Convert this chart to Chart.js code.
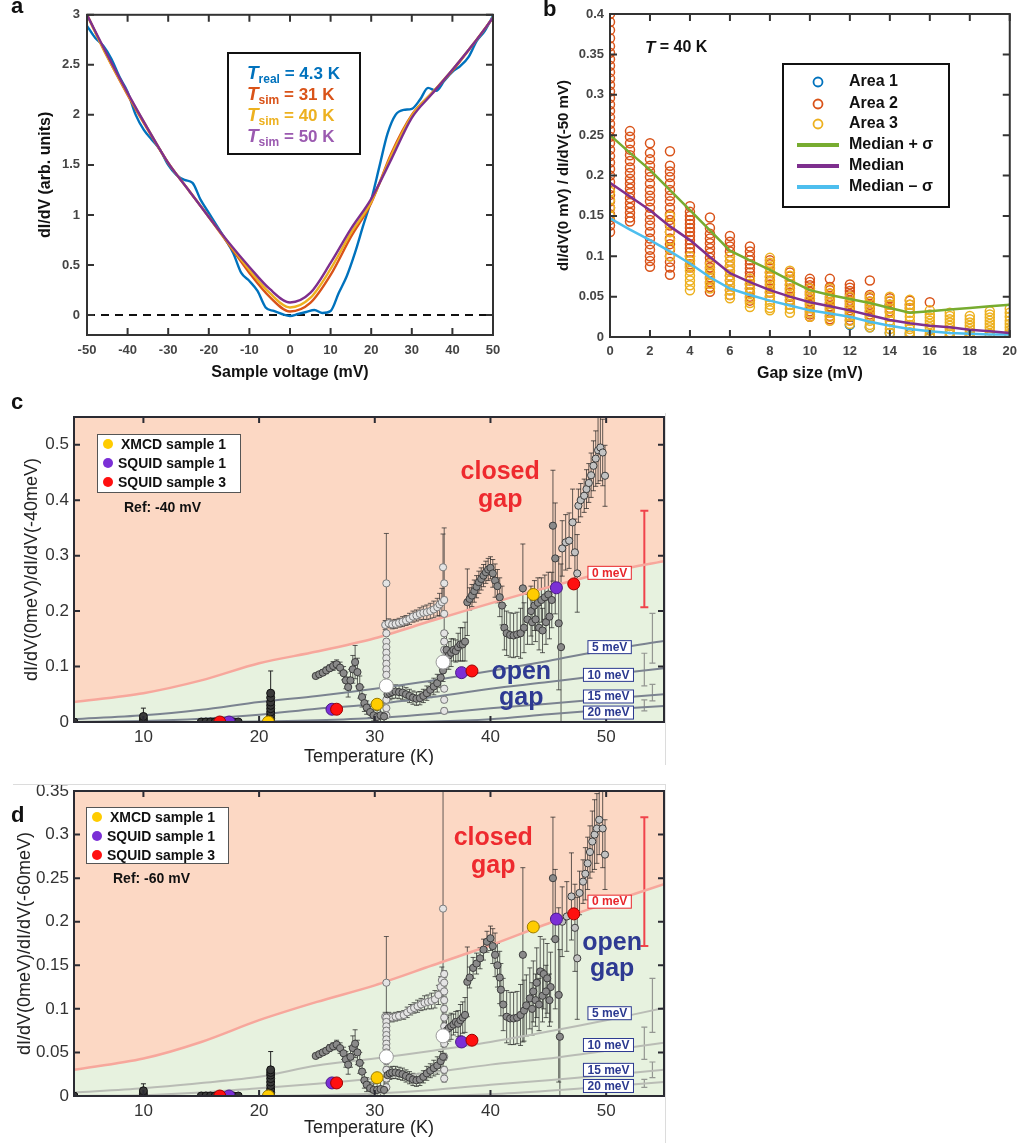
<!DOCTYPE html>
<html>
<head>
<meta charset="utf-8">
<title>Gap analysis figure</title>
<script src="https://cdn.jsdelivr.net/npm/chart.js@4.4.1/dist/chart.umd.min.js"></script>
<style>
  html, body { margin: 0; padding: 0; background: #fff; }
  body { position: relative; width: 1024px; height: 1143px; overflow: hidden; font-family: "Liberation Sans", Arial, sans-serif; }
  canvas { position: absolute; }
  .panel { position: absolute; font-weight: bold; font-size: 22px; line-height: 1; color: #111; }
  .edge { position: absolute; border: 0 solid #dcdcdc; }
</style>
</head>
<body>
<canvas id="chartA" width="512" height="390" style="left:0;top:0"></canvas>
<canvas id="chartB" width="512" height="390" style="left:512px;top:0"></canvas>
<canvas id="chartC" width="680" height="370" style="left:0;top:395px"></canvas>
<canvas id="chartD" width="680" height="368" style="left:0;top:775px"></canvas>
<div class="edge" style="left:665px;top:413px;height:352px;border-left-width:1px"></div>
<div class="edge" style="left:13px;top:784px;width:652px;height:359px;border-top-width:1px;border-right-width:1px"></div>
<div class="panel" style="left:11px;top:-5px">a</div>
<div class="panel" style="left:543px;top:-2px">b</div>
<div class="panel" style="left:11px;top:391px">c</div>
<div class="panel" style="left:11px;top:804px">d</div>
<script>
// ---------- panel a : dI/dV spectra ----------
var voltReal = [-50,-48,-46,-44,-42,-40,-38,-36,-34,-32,-30,-28,-26,-24,-22,-20,-18,-16,-14,-12,-10,-8,-6,-4,-2,
                0,2,4,6,8,10,12,14,16,18,20,22,24,26,28,30,32,34,36,38,40,42,44,46,48,50];
var real43K = [2.89,2.77,2.69,2.56,2.38,2.23,2.0,1.85,1.75,1.65,1.5,1.4,1.35,1.32,1.15,1.02,0.89,0.76,0.62,0.42,0.34,0.24,0.076,0.04,0.01,
               -0.01,0.01,0.03,0.05,0.02,0.04,0.22,0.39,0.62,0.89,1.15,1.48,1.81,2.0,2.05,2.06,2.15,2.27,2.24,2.34,2.43,2.49,2.58,2.74,2.84,2.99];
var voltSim = [-50,-45,-40,-35,-30,-25,-20,-15,-10,-5,0,5,10,15,20,25,30,35,40,45,50];
var sim31K = [3.0,2.58,2.2,1.85,1.52,1.25,0.98,0.7,0.42,0.18,0.035,0.12,0.4,0.78,1.12,1.62,2.0,2.22,2.44,2.7,2.97];
var sim40K = [3.0,2.58,2.21,1.86,1.52,1.25,0.98,0.71,0.45,0.22,0.075,0.17,0.46,0.82,1.13,1.6,1.99,2.22,2.45,2.7,2.97];
var sim50K = [3.0,2.6,2.22,1.86,1.52,1.25,0.98,0.72,0.48,0.26,0.125,0.22,0.52,0.86,1.16,1.56,1.97,2.21,2.45,2.7,2.97];
var aXTicks = [-50,-40,-30,-20,-10,0,10,20,30,40,50];
var aYTicks = [0,0.5,1,1.5,2,2.5,3];
var aLegend = [['real', ' = 4.3 K'], ['sim', ' = 31 K'], ['sim', ' = 40 K'], ['sim', ' = 50 K']];

// ---------- panel b : zero-bias ratio vs gap size, T = 40 K ----------
var gapSize = [0,1,2,3,4,5,6,7,8,9,10,11,12,13,14,15,16,17,18,19,20];
var area1Cols = [[],[],[],[],[],[],[],[],[],[],[],[],[0.015],[0.012],[0.04,0.005],[0.004],[0.0],[0.0],[0.001],[],[0.002]];
var area2Cols = [
  [0.40,0.39,0.38,0.37,0.36,0.352,0.344,0.336,0.328,0.32,0.312,0.304,0.296,0.288,0.28,0.272,0.264,0.256,0.248,0.24,0.232,0.224,0.216,0.208,0.2,0.192,0.184,0.176,0.168,0.16,0.152,0.145,0.138,0.13],
  [0.255,0.248,0.24,0.232,0.225,0.218,0.21,0.203,0.196,0.19,0.184,0.178,0.172,0.166,0.16,0.154,0.148,0.143],
  [0.24,0.228,0.22,0.212,0.205,0.198,0.19,0.182,0.175,0.168,0.16,0.152,0.145,0.138,0.13,0.122,0.115,0.108,0.1,0.094,0.087],
  [0.23,0.212,0.205,0.198,0.19,0.182,0.175,0.168,0.16,0.152,0.145,0.138,0.13,0.122,0.115,0.108,0.1,0.093,0.086,0.077],
  [0.162,0.155,0.15,0.145,0.14,0.135,0.13,0.125,0.12,0.115,0.11,0.105,0.1,0.095,0.09,0.086],
  [0.148,0.135,0.128,0.122,0.116,0.11,0.104,0.098,0.092,0.086,0.08,0.074,0.068,0.062,0.056],
  [0.125,0.118,0.112,0.106,0.1,0.094,0.088,0.082,0.076,0.07,0.064,0.058,0.052],
  [0.112,0.106,0.1,0.095,0.09,0.085,0.08,0.075,0.07,0.065,0.06,0.055,0.05,0.045],
  [0.095,0.09,0.085,0.08,0.075,0.07,0.065,0.06,0.055,0.05],
  [0.08,0.075,0.07,0.065,0.06,0.055,0.05,0.045,0.04],
  [0.072,0.068,0.064,0.06,0.056,0.052,0.048,0.044,0.04,0.036,0.032,0.028,0.025],
  [0.072,0.062,0.058,0.054,0.05,0.046,0.042,0.038,0.034,0.03,0.026,0.022],
  [0.065,0.061,0.057,0.053,0.049,0.045,0.041,0.037,0.033,0.029,0.025,0.021],
  [0.07,0.052,0.048,0.044,0.04,0.036,0.032,0.028,0.024],
  [0.048,0.044,0.04,0.036,0.032],
  [0.045,0.04,0.036],
  [0.043],[],[],[],[]
];
var area3Cols = [
  [0.18,0.17,0.16,0.15],[],[],
  [0.15,0.14,0.13,0.12,0.11,0.1],
  [0.1,0.094,0.088,0.082,0.076,0.07,0.064,0.058],
  [0.09,0.084,0.078,0.072,0.066,0.06],
  [0.1,0.094,0.088,0.082,0.076,0.07,0.064,0.058,0.052,0.048],
  [0.072,0.066,0.06,0.054,0.048,0.042,0.037],
  [0.098,0.092,0.086,0.08,0.074,0.068,0.062,0.056,0.05,0.045,0.04,0.036,0.033],
  [0.082,0.076,0.07,0.064,0.058,0.052,0.046,0.04,0.035,0.03],
  [0.06,0.054,0.048,0.042,0.036,0.03,0.025],
  [0.06,0.054,0.048,0.042,0.036,0.03,0.025,0.02],
  [0.05,0.044,0.038,0.032,0.026,0.02,0.016],
  [0.05,0.044,0.038,0.032,0.026,0.02,0.015,0.012],
  [0.05,0.045,0.04,0.035,0.03,0.025,0.02,0.015,0.01,0.005],
  [0.046,0.04,0.035,0.03,0.025,0.02,0.015,0.01,0.006,0.002],
  [0.033,0.028,0.024,0.02,0.016,0.012,0.008,0.004,0.001],
  [0.03,0.026,0.022,0.018,0.014,0.01,0.006,0.003,0.0],
  [0.026,0.022,0.018,0.014,0.01,0.006,0.003,0.0],
  [0.032,0.028,0.024,0.02,0.016,0.012,0.008,0.004,0.001],
  [0.035,0.03,0.025,0.02,0.016,0.012,0.008,0.004,0.001]
];
var medianPlus  = [0.25,0.228,0.207,0.182,0.157,0.132,0.107,0.095,0.083,0.07,0.058,0.052,0.047,0.042,0.036,0.03,0.032,0.034,0.036,0.038,0.04];
var median      = [0.191,0.174,0.157,0.137,0.12,0.099,0.079,0.068,0.058,0.05,0.043,0.038,0.033,0.027,0.021,0.017,0.014,0.012,0.009,0.007,0.005];
var medianMinus = [0.147,0.133,0.12,0.106,0.091,0.074,0.06,0.052,0.045,0.039,0.033,0.029,0.025,0.019,0.014,0.01,0.007,0.005,0.004,0.003,0.003];
var bXTicks = [0,2,4,6,8,10,12,14,16,18,20];
var bYTicks = [0,0.05,0.1,0.15,0.2,0.25,0.3,0.35,0.4];

// ---------- panels c, d : temperature dependence ----------
var tXTicks = [10,20,30,40,50];
var cYTicks = [0,0.1,0.2,0.3,0.4,0.5];
var dYTicks = [0,0.05,0.1,0.15,0.2,0.25,0.3,0.35];
var gapT = [4,10,15,20,25,30,35,40,45,50,55];
var gapC0 = [0.036,0.052,0.075,0.106,0.127,0.151,0.183,0.214,0.243,0.27,0.29];
var gapC5 = [0.005,0.012,0.022,0.036,0.047,0.06,0.075,0.092,0.11,0.13,0.146];
var gapC10 = [0,0.002,0.006,0.013,0.024,0.032,0.045,0.06,0.072,0.085,0.097];
var gapC15 = [0,0,0,0.001,0.003,0.007,0.015,0.025,0.033,0.042,0.05];
var gapC20 = [0,0,0,0,0,0,0.001,0.005,0.014,0.022,0.029];
var gapD0 = [0.03,0.043,0.062,0.087,0.108,0.127,0.15,0.173,0.198,0.221,0.243];
var gapD5 = [0.004,0.009,0.015,0.022,0.035,0.043,0.052,0.062,0.074,0.087,0.101];
var gapD10 = [0,0.001,0.004,0.009,0.014,0.02,0.027,0.036,0.043,0.052,0.061];
var gapD15 = [0,0,0,0,0.001,0.003,0.007,0.013,0.018,0.024,0.03];
var gapD20 = [0,0,0,0,0,0,0,0.002,0.006,0.011,0.016];
var gapNames = ['0 meV','5 meV','10 meV','15 meV','20 meV'];
var gapLabelT = [50.3,50.3,50.2,50.2,50.2];
var gapLabelYC = [0.269,0.135,0.085,0.046,0.017];
var gapLabelYD = [0.223,0.095,0.0585,0.03,0.0115];
var gapBarT = [53.3,54.0,53.3,54.0,53.3];
var gapBarLoC = [0.207,0.106,0.065,0.038,0.02];
var gapBarHiC = [0.381,0.196,0.124,0.068,0.04];
var gapBarLoD = [0.172,0.073,0.042,0.021,0.01];
var gapBarHiD = [0.32,0.135,0.079,0.039,0.019];

var lowT = [4,10,10,10,15,15.4,15.8,16.2,16.6,17,17.4,17.8,18.2,21,21,21,21,21,21,21,21,21];
var lowC = [0,0,0.005,0.01,0,0,0,0,0,0,0,0,0,0,0.006,0.012,0.018,0.024,0.03,0.036,0.044,0.052];
var lowErrC = [0.002,0.002,0.003,0.015,0,0,0,0,0,0,0,0,0,0.002,0.003,0.003,0.003,0.003,0.003,0.003,0.003,0.04];
var lowD = [0,0,0.003,0.006,0,0,0,0,0,0,0,0,0,0,0.004,0.008,0.012,0.016,0.02,0.024,0.027,0.03];
var lowErrD = [0.001,0.001,0.002,0.008,0,0,0,0,0,0,0,0,0,0.001,0.002,0.002,0.002,0.002,0.002,0.002,0.002,0.021];

var grayTC = [24.9,25.2,25.5,25.8,26.1,26.4,26.7,27.0,27.3,27.5,27.7,27.9,28.1,28.3,28.5,28.7,28.9,29.1,29.3,29.6,29.9,30.2,30.5,30.8,
  31.1,31.3,31.5,31.8,32.1,32.4,32.7,33.0,33.3,33.6,33.9,34.2,34.5,34.8,35.1,35.4,35.7,35.9,
  36.2,36.4,36.6,36.8,37.0,37.2,37.4,37.6,37.8,
  38.0,38.2,38.4,38.6,38.8,39.0,39.2,39.4,39.6,39.8,40.0,40.2,40.4,40.6,40.8,41.0,41.2,41.4,41.7,42.0,42.3,42.6,42.9,43.2,43.5,43.8,44.1,44.4,44.7,45.0,45.3,
  43.6,43.9,44.2,44.5,44.8,45.1,
  45.4,45.6,45.9,46.1,46.2,46.5,46.8,47.1,47.3,47.5,47.6,47.8,48.1,48.3,48.5,48.7,48.9,49.1,49.3,49.5,49.7,49.9,
  42.8];
var grayC = [0.083,0.086,0.089,0.093,0.097,0.101,0.104,0.098,0.088,0.075,0.063,0.075,0.095,0.108,0.09,0.063,0.045,0.034,0.026,0.018,0.012,0.009,0.012,0.01,
  0.05,0.052,0.054,0.055,0.054,0.053,0.05,0.047,0.044,0.042,0.043,0.047,0.052,0.058,0.064,0.07,0.08,0.093,
  0.13,0.12,0.125,0.13,0.128,0.135,0.14,0.14,0.145,
  0.216,0.222,0.228,0.236,0.244,0.252,0.258,0.264,0.27,0.275,0.278,0.268,0.255,0.245,0.225,0.21,0.17,0.16,0.157,0.156,0.158,0.16,0.17,0.185,0.2,0.21,0.215,0.22,0.225,0.23,0.22,
  0.18,0.185,0.17,0.165,0.18,0.19,
  0.354,0.295,0.178,0.135,0.313,0.324,0.327,0.36,0.306,0.268,0.39,0.40,0.408,0.42,0.431,0.445,0.462,0.475,0.49,0.495,0.486,0.444,
  0.241];
var grayErrC = [0.003,0.004,0.005,0.006,0.006,0.008,0.008,0.01,0.012,0.015,0.018,0.02,0.025,0.03,0.025,0.02,0.018,0.015,0.012,0.01,0.01,0.012,0.02,0.025,
  0.012,0.012,0.012,0.012,0.012,0.012,0.012,0.012,0.012,0.012,0.012,0.012,0.013,0.014,0.015,0.016,0.018,0.02,
  0.03,0.025,0.025,0.02,0.02,0.025,0.03,0.03,0.035,
  0.06,0.02,0.02,0.02,0.02,0.02,0.02,0.02,0.02,0.02,0.02,0.025,0.03,0.03,0.035,0.035,0.04,0.04,0.04,0.04,0.04,0.045,0.045,0.045,0.045,0.045,0.045,0.04,0.04,0.04,0.05,
  0.04,0.04,0.04,0.04,0.04,0.04,
  0.1,0.1,0.12,0.15,0.05,0.05,0.05,0.06,0.06,0.07,0.03,0.03,0.03,0.035,0.035,0.04,0.045,0.05,0.06,0.06,0.06,0.055,
  0.08];
var grayTD = [24.9,25.2,25.5,25.8,26.1,26.4,26.7,27.0,27.3,27.5,27.7,27.9,28.1,28.3,28.5,28.7,28.9,29.1,29.3,29.6,29.9,30.2,30.5,30.8,
  31.1,31.3,31.5,31.8,32.1,32.4,32.7,33.0,33.3,33.6,33.9,34.2,34.5,34.8,35.1,35.4,35.7,35.9,
  36.2,36.4,36.6,36.8,37.0,37.2,37.4,37.6,37.8,
  38.0,38.2,38.5,38.8,39.1,39.4,39.7,40.0,40.2,40.4,40.6,40.8,40.9,41.1,41.4,41.7,42.0,42.3,42.6,42.9,43.1,43.4,43.7,44.0,44.3,44.6,44.9,45.2,
  43.6,43.9,44.2,44.5,44.8,45.1,
  45.4,45.6,45.9,46.0,46.2,46.6,47.0,47.3,47.5,47.7,48.0,48.2,48.4,48.6,48.8,49.0,49.2,49.4,49.7,49.9,
  42.8];
var grayD = [0.046,0.048,0.05,0.052,0.055,0.057,0.059,0.055,0.049,0.042,0.036,0.045,0.055,0.06,0.05,0.038,0.028,0.018,0.013,0.009,0.007,0.007,0.008,0.007,
  0.024,0.026,0.027,0.027,0.026,0.025,0.023,0.021,0.019,0.018,0.019,0.022,0.026,0.029,0.032,0.035,0.04,0.045,
  0.075,0.078,0.08,0.082,0.085,0.083,0.087,0.09,0.093,
  0.131,0.136,0.147,0.152,0.158,0.168,0.177,0.181,0.172,0.162,0.15,0.136,0.122,0.105,0.091,0.089,0.089,0.09,0.093,0.098,0.104,0.112,0.12,0.13,0.143,0.14,0.135,0.125,
  0.1,0.11,0.105,0.115,0.12,0.11,
  0.25,0.18,0.116,0.068,0.2,0.206,0.229,0.193,0.158,0.233,0.246,0.255,0.267,0.28,0.292,0.3,0.307,0.317,0.307,0.277,
  0.162];
var grayErrD = [0.002,0.002,0.003,0.003,0.004,0.004,0.005,0.006,0.007,0.009,0.011,0.012,0.014,0.016,0.014,0.012,0.01,0.009,0.008,0.007,0.007,0.008,0.012,0.015,
  0.007,0.007,0.007,0.007,0.007,0.007,0.007,0.007,0.007,0.007,0.007,0.007,0.008,0.008,0.009,0.01,0.011,0.012,
  0.015,0.015,0.015,0.012,0.012,0.015,0.018,0.018,0.02,
  0.04,0.012,0.012,0.012,0.012,0.012,0.012,0.014,0.02,0.025,0.025,0.03,0.03,0.03,0.03,0.03,0.03,0.03,0.035,0.035,0.035,0.035,0.035,0.04,0.04,0.04,0.04,0.04,
  0.03,0.03,0.03,0.03,0.03,0.03,
  0.07,0.08,0.1,0.1,0.04,0.04,0.05,0.05,0.07,0.025,0.025,0.03,0.03,0.03,0.035,0.04,0.04,0.04,0.045,0.04,
  0.1];

var lightTC = [30.9,31.2,31.5,31.8,32.1,32.4,32.7,33.0,33.3,33.6,33.9,34.2,34.5,34.8,35.1,35.4,35.6,35.8,35.9];
var lightC = [0.175,0.178,0.176,0.177,0.179,0.181,0.183,0.186,0.19,0.192,0.195,0.197,0.198,0.2,0.203,0.207,0.212,0.216,0.279];
var lightErrC = [0.008,0.008,0.008,0.008,0.008,0.009,0.009,0.01,0.01,0.01,0.011,0.012,0.013,0.014,0.015,0.016,0.02,0.025,0.06];
var lightTD = [30.9,31.2,31.5,31.8,32.1,32.5,32.8,33.1,33.4,33.7,34.0,34.3,34.6,34.9,35.2,35.5,35.7,35.8,35.9];
var lightD = [0.091,0.091,0.09,0.091,0.092,0.093,0.096,0.099,0.101,0.103,0.105,0.107,0.108,0.109,0.111,0.116,0.125,0.133,0.215];
var lightErrD = [0.005,0.005,0.005,0.005,0.005,0.005,0.006,0.006,0.006,0.007,0.007,0.008,0.008,0.009,0.01,0.011,0.012,0.015,0.135];
var colTemps = [31, 36];
var col31C = [0.25,0.16,0.145,0.135,0.125,0.115,0.105,0.095,0.085,0.04,0.025,0.012];
var col31ErrC = [0.09,0.005,0.005,0.005,0.005,0.005,0.005,0.005,0.005,0.005,0.005,0.005];
var col36C = [0.25,0.22,0.195,0.16,0.145,0.13,0.115,0.1,0.06,0.04,0.02];
var col36ErrC = [0.1,0.005,0.005,0.005,0.005,0.005,0.005,0.005,0.005,0.005,0.005];
var col31D = [0.13,0.09,0.085,0.08,0.075,0.07,0.065,0.06,0.055,0.05,0.04,0.03,0.02,0.01];
var col31ErrD = [0.053,0.004,0.004,0.004,0.004,0.004,0.004,0.004,0.004,0.004,0.004,0.004,0.004,0.004];
var col36D = [0.14,0.13,0.12,0.11,0.1,0.09,0.08,0.06,0.045,0.03,0.02];
var col36ErrD = [0.004,0.004,0.004,0.004,0.004,0.004,0.004,0.004,0.004,0.004,0.004];
var bigT = [31, 35.9];
var bigC = [0.065, 0.108];
var bigD = [0.045, 0.069];

var sampleNames = ['XMCD sample 1', 'SQUID sample 1', 'SQUID sample 3'];
var sampleColors = ['#FFCC00', '#7B2FD6', '#FF1010'];
var sampleEdges = ['#9a7b00', '#4a1a88', '#a00000'];
var xmcdT = [20.8, 30.2, 43.7];
var xmcdC = [0, 0.032, 0.23];
var xmcdD = [0, 0.021, 0.194];
var squid1T = [17.4, 26.3, 37.5, 45.7];
var squid1C = [0, 0.023, 0.089, 0.242];
var squid1D = [0, 0.015, 0.062, 0.203];
var squid3T = [16.6, 26.7, 38.4, 47.2];
var squid3C = [0, 0.023, 0.092, 0.249];
var squid3D = [0, 0.015, 0.064, 0.209];

// ---------- helpers ----------
var FONT = '"Liberation Sans", Arial, Helvetica, sans-serif';
var BLUE = '#0072BD', ORANGE = '#D95319', YELLOW = '#EDB120', PURPLE = '#7E2F8E';
var SALMON = '#FCD8C4', MINT = '#E7F2DF';

function pts(xs, ys) { return xs.map(function (x, i) { return {x: x, y: ys[i]}; }); }
function col(t, ys) { return ys.map(function (y) { return {x: t, y: y}; }); }
function lows(ys, es) { return ys.map(function (y, i) { return y - es[i]; }); }
function highs(ys, es) { return ys.map(function (y, i) { return y + es[i]; }); }
function colPts(cols) {
    var out = [];
    cols.forEach(function (c, i) { c.forEach(function (v) { out.push({x: gapSize[i], y: v}); }); });
    return out;
}

function axis(o) {
    return {
        type: 'linear', min: o.min, max: o.max,
        afterBuildTicks: function (s) { s.ticks = o.ticks.map(function (v) { return {value: v}; }); },
        afterFit: function (s) { if (o.w !== undefined) s.width = o.w; if (o.h !== undefined) s.height = o.h; },
        grid: {display: false, drawTicks: false},
        border: {display: false},
        ticks: {padding: o.pad, color: o.tickColor, font: o.tickFont, autoSkip: false, maxRotation: 0,
                callback: function (v) { return String(v); }},
        title: {display: true, text: o.title, color: o.titleColor || '#111', font: o.titleFont, padding: o.titlePad}
    };
}

function framePlugin(color, lw, len) {
    return {
        id: 'frame',
        afterDatasetsDraw: function (chart) {
            var ctx = chart.ctx, a = chart.chartArea, x = chart.scales.x, y = chart.scales.y;
            ctx.save();
            ctx.strokeStyle = color;
            ctx.lineWidth = lw;
            ctx.beginPath();
            x.ticks.forEach(function (t) {
                var px = x.getPixelForValue(t.value);
                ctx.moveTo(px, a.bottom); ctx.lineTo(px, a.bottom - len);
                ctx.moveTo(px, a.top); ctx.lineTo(px, a.top + len);
            });
            y.ticks.forEach(function (t) {
                var py = y.getPixelForValue(t.value);
                ctx.moveTo(a.left, py); ctx.lineTo(a.left + len, py);
                ctx.moveTo(a.right, py); ctx.lineTo(a.right - len, py);
            });
            ctx.stroke();
            ctx.strokeRect(a.left, a.top, a.right - a.left, a.bottom - a.top);
            ctx.restore();
        }
    };
}

var errorBars = {
    id: 'errorBars',
    beforeDatasetsDraw: function (chart) {
        var ctx = chart.ctx, a = chart.chartArea, x = chart.scales.x, y = chart.scales.y;
        ctx.save();
        ctx.beginPath();
        ctx.rect(a.left, a.top, a.right - a.left, a.bottom - a.top);
        ctx.clip();
        chart.data.datasets.forEach(function (ds) {
            if (!ds.errLo) return;
            var cap = ds.errCap || 2.5;
            ctx.strokeStyle = ds.errColor || '#222';
            ctx.lineWidth = ds.errWidth || 1;
            ds.data.forEach(function (p, i) {
                if (!(ds.errHi[i] > ds.errLo[i])) return;
                var px = x.getPixelForValue(p.x);
                var lo = y.getPixelForValue(ds.errLo[i]), hi = y.getPixelForValue(ds.errHi[i]);
                ctx.beginPath();
                ctx.moveTo(px, lo); ctx.lineTo(px, hi);
                ctx.moveTo(px - cap, lo); ctx.lineTo(px + cap, lo);
                ctx.moveTo(px - cap, hi); ctx.lineTo(px + cap, hi);
                ctx.stroke();
            });
        });
        ctx.restore();
    }
};

function baseOptions(xAxis, yAxis, padding) {
    return {
        responsive: false, animation: false, events: [],
        layout: {padding: padding},
        plugins: {legend: {display: false}, tooltip: {enabled: false}, filler: {drawTime: 'beforeDraw'}},
        scales: {x: xAxis, y: yAxis}
    };
}

function curve(xs, ys, color, width) {
    return {data: pts(xs, ys), showLine: true, pointRadius: 0, borderColor: color, borderWidth: width,
            cubicInterpolationMode: 'monotone'};
}

// ---------- chart a ----------
var tickBold = {family: FONT, size: 13, weight: 'bold'};
var titleBold = {family: FONT, size: 16, weight: 'bold'};

var aLayers = [
    {data: pts([-50, 50], [0, 0]), showLine: true, pointRadius: 0, borderColor: '#111', borderWidth: 2, borderDash: [8, 6]},
    curve(voltReal, real43K, BLUE, 2.4),
    curve(voltSim, sim31K, ORANGE, 2.4),
    curve(voltSim, sim40K, YELLOW, 2.4),
    curve(voltSim, sim50K, PURPLE, 2.4)
];
var aLegendColors = [BLUE, ORANGE, YELLOW, '#9B5AB0'];

new Chart(document.getElementById('chartA'), {
    type: 'scatter',
    data: {datasets: aLayers.slice().reverse()},
    options: baseOptions(
        axis({min: -50, max: 50, ticks: aXTicks, h: 55, pad: 8, tickColor: '#444', tickFont: tickBold,
              title: 'Sample voltage (mV)', titleFont: titleBold, titlePad: {top: 0, bottom: 8}}),
        axis({min: -0.2, max: 3, ticks: aYTicks, w: 87, pad: 7, tickColor: '#444', tickFont: tickBold,
              title: 'dI/dV (arb. units)', titleFont: titleBold, titlePad: {top: 36, bottom: 0}}),
        {top: 14, right: 19, left: 0, bottom: 0}),
    plugins: [framePlugin('#333', 2, 7), {
        id: 'legendA',
        afterDraw: function (chart) {
            var ctx = chart.ctx;
            ctx.save();
            ctx.strokeStyle = '#111';
            ctx.lineWidth = 2;
            ctx.strokeRect(228, 53, 132, 101);
            var base = [79, 100, 121, 142];
            aLegend.forEach(function (row, i) {
                var x = 247, y = base[i];
                ctx.fillStyle = aLegendColors[i];
                ctx.textBaseline = 'alphabetic';
                ctx.textAlign = 'left';
                ctx.font = 'italic bold 19px ' + FONT;
                ctx.fillText('T', x, y);
                x += ctx.measureText('T').width;
                ctx.font = 'bold 12px ' + FONT;
                ctx.fillText(row[0], x, y + 4);
                x += ctx.measureText(row[0]).width;
                ctx.font = 'bold 17px ' + FONT;
                ctx.fillText(row[1], x, y);
            });
            ctx.restore();
        }
    }]
});

// ---------- chart b ----------
function rings(points, color) {
    return {data: points, pointRadius: 4.5, pointBackgroundColor: 'rgba(0,0,0,0)', pointBorderColor: color, pointBorderWidth: 1.5};
}
var bLayers = [
    rings(colPts(area1Cols), BLUE),
    rings(colPts(area2Cols), ORANGE),
    rings(colPts(area3Cols), YELLOW),
    {data: pts(gapSize, medianMinus), showLine: true, pointRadius: 0, borderColor: '#4DBEEE', borderWidth: 2.5},
    {data: pts(gapSize, median), showLine: true, pointRadius: 0, borderColor: PURPLE, borderWidth: 2.5},
    {data: pts(gapSize, medianPlus), showLine: true, pointRadius: 0, borderColor: '#77AC30', borderWidth: 2.5}
];
var bLegendNames = ['Area 1', 'Area 2', 'Area 3', 'Median + \u03c3', 'Median', 'Median \u2013 \u03c3'];
var bLegendColors = [BLUE, ORANGE, YELLOW, '#77AC30', PURPLE, '#4DBEEE'];

new Chart(document.getElementById('chartB'), {
    type: 'scatter',
    data: {datasets: bLayers.slice().reverse()},
    options: baseOptions(
        axis({min: 0, max: 20, ticks: bXTicks, h: 53, pad: 7, tickColor: '#444', tickFont: tickBold,
              title: 'Gap size (mV)', titleFont: titleBold, titlePad: {top: 0, bottom: 7}}),
        axis({min: 0, max: 0.4, ticks: bYTicks, w: 98, pad: 6, tickColor: '#444', tickFont: tickBold,
              title: 'dI/dV(0 mV) / dI/dV(-50 mV)', titleFont: {family: FONT, size: 15, weight: 'bold'},
              titlePad: {top: 43, bottom: 0}}),
        {top: 14, right: 9, left: 0, bottom: 0}),
    plugins: [framePlugin('#333', 2, 7), {
        id: 'legendB',
        afterDraw: function (chart) {
            var ctx = chart.ctx;
            ctx.save();
            ctx.fillStyle = '#111';
            ctx.textBaseline = 'middle';
            ctx.textAlign = 'left';
            ctx.font = 'italic bold 17px ' + FONT;
            ctx.fillText('T', 133, 48);
            var w = ctx.measureText('T').width;
            ctx.font = 'bold 16px ' + FONT;
            ctx.fillText(' = 40 K', 133 + w, 48);
            ctx.fillStyle = '#fff';
            ctx.fillRect(271, 64, 166, 143);
            ctx.strokeStyle = '#111';
            ctx.lineWidth = 2;
            ctx.strokeRect(271, 64, 166, 143);
            var rowsY = [82, 104, 124, 145, 166, 187];
            bLegendNames.forEach(function (name, i) {
                var y = rowsY[i];
                ctx.strokeStyle = bLegendColors[i];
                if (i < 3) {
                    ctx.lineWidth = 1.8;
                    ctx.beginPath();
                    ctx.arc(306, y, 4.5, 0, Math.PI * 2);
                    ctx.stroke();
                } else {
                    ctx.lineWidth = 4;
                    ctx.beginPath();
                    ctx.moveTo(285, y); ctx.lineTo(327, y);
                    ctx.stroke();
                }
                ctx.fillStyle = '#111';
                ctx.font = 'bold 16px ' + FONT;
                ctx.fillText(name, 337, y);
            });
            ctx.restore();
        }
    }]
});

// ---------- charts c and d ----------
function tempChart(id, p) {
    var layers = [
        {data: pts(gapT, p.g0), showLine: true, pointRadius: 0, borderColor: 'rgba(0,0,0,0)', borderWidth: 1,
         fill: 'start', backgroundColor: MINT},
        {data: pts(gapT, p.g0), showLine: true, pointRadius: 0, borderColor: '#F7A79C', borderWidth: 2.5,
         fill: 'end', backgroundColor: SALMON, tension: 0.3},
        {data: pts(gapT, p.g5), showLine: true, pointRadius: 0, borderColor: p.gapColor, borderWidth: 2, tension: 0.3},
        {data: pts(gapT, p.g10), showLine: true, pointRadius: 0, borderColor: p.gapColor, borderWidth: 2, tension: 0.3},
        {data: pts(gapT, p.g15), showLine: true, pointRadius: 0, borderColor: p.gapColor, borderWidth: 2, tension: 0.3},
        {data: pts(gapT, p.g20), showLine: true, pointRadius: 0, borderColor: p.gapColor, borderWidth: 2, tension: 0.3},
        {data: pts(gapBarT.slice(0, 1), [0]), pointRadius: 0, errLo: p.barLo.slice(0, 1), errHi: p.barHi.slice(0, 1),
         errColor: '#F0434B', errWidth: 2, errCap: 4},
        {data: pts(gapBarT.slice(1), [0, 0, 0, 0]), pointRadius: 0, errLo: p.barLo.slice(1), errHi: p.barHi.slice(1),
         errColor: 'rgba(120,120,120,0.75)', errWidth: 1.2, errCap: 3},
        {data: pts(lowT, p.low), pointRadius: 4, pointBackgroundColor: '#3a3a3a', pointBorderColor: '#111', pointBorderWidth: 1,
         errLo: lows(p.low, p.lowErr), errHi: highs(p.low, p.lowErr), errColor: '#222'},
        {data: pts(p.lightT, p.light).concat(col(colTemps[0], p.col31), col(colTemps[1], p.col36)),
         pointRadius: 3.6, pointBackgroundColor: '#e4e4e4', pointBorderColor: '#7a7a7a', pointBorderWidth: 1,
         errLo: lows(p.light.concat(p.col31, p.col36), p.lightErr.concat(p.col31Err, p.col36Err)),
         errHi: highs(p.light.concat(p.col31, p.col36), p.lightErr.concat(p.col31Err, p.col36Err)),
         errColor: 'rgba(50,50,50,0.75)'},
        {data: pts(p.grayT, p.gray), pointRadius: 3.6,
         pointBackgroundColor: function (c) { return c.raw && c.raw.x > 46.1 ? '#c2c2c2' : '#8a8a8a'; },
         pointBorderColor: '#3d3d3d', pointBorderWidth: 1,
         errLo: lows(p.gray, p.grayErr), errHi: highs(p.gray, p.grayErr), errColor: 'rgba(30,30,30,0.7)'},
        {data: pts(bigT, p.big), pointRadius: 7, pointBackgroundColor: '#fff', pointBorderColor: '#9a9a9a', pointBorderWidth: 1},
        {data: pts(xmcdT, p.xmcd), pointRadius: 6, pointBackgroundColor: sampleColors[0], pointBorderColor: sampleEdges[0], pointBorderWidth: 1},
        {data: pts(squid1T, p.squid1), pointRadius: 6, pointBackgroundColor: sampleColors[1], pointBorderColor: sampleEdges[1], pointBorderWidth: 1},
        {data: pts(squid3T, p.squid3), pointRadius: 6, pointBackgroundColor: sampleColors[2], pointBorderColor: sampleEdges[2], pointBorderWidth: 1}
    ];
    var tickReg = {family: FONT, size: 17};
    var titleReg = {family: FONT, size: 18};
    return new Chart(document.getElementById(id), {
        type: 'scatter',
        data: {datasets: layers.slice().reverse()},
        options: baseOptions(
            axis({min: 4, max: 55, ticks: tXTicks, h: p.xh, pad: 5, tickColor: '#333', tickFont: tickReg,
                  title: 'Temperature (K)', titleColor: '#222', titleFont: titleReg, titlePad: {top: 0, bottom: p.titleBottom}}),
            axis({min: 0, max: p.yMax, ticks: p.yTicks, w: 74, pad: 5, tickColor: '#333', tickFont: tickReg,
                  title: p.yTitle, titleColor: '#222', titleFont: titleReg, titlePad: {top: p.yTitleTop, bottom: 0}}),
            {top: p.padTop, right: 16, left: 0, bottom: 0}),
        plugins: [errorBars, framePlugin('#2b2b33', 2, 6), {
            id: 'notes',
            afterDraw: function (chart) {
                var ctx = chart.ctx, x = chart.scales.x, y = chart.scales.y;
                ctx.save();
                ctx.textAlign = 'center';
                ctx.textBaseline = 'middle';
                ctx.font = 'bold 25px ' + FONT;
                ctx.fillStyle = '#EE2A2E';
                ctx.fillText('closed', x.getPixelForValue(p.closedAt[0]), y.getPixelForValue(p.closedAt[1]));
                ctx.fillText('gap', x.getPixelForValue(p.closedAt[0]), y.getPixelForValue(p.closedAt[2]));
                ctx.fillStyle = '#2E3A92';
                ctx.fillText('open', x.getPixelForValue(p.openAt[0]), y.getPixelForValue(p.openAt[1]));
                ctx.fillText('gap', x.getPixelForValue(p.openAt[0]), y.getPixelForValue(p.openAt[2]));
                ctx.font = 'bold 12px ' + FONT;
                gapNames.forEach(function (name, i) {
                    var cx = x.getPixelForValue(gapLabelT[i]), cy = y.getPixelForValue(p.labelY[i]);
                    var w = ctx.measureText(name).width + 8;
                    var col = i === 0 ? '#E8262B' : '#2B3990';
                    ctx.fillStyle = '#fff';
                    ctx.fillRect(cx - w / 2, cy - 6.5, w, 13);
                    ctx.strokeStyle = col;
                    ctx.lineWidth = 1;
                    ctx.strokeRect(cx - w / 2, cy - 6.5, w, 13);
                    ctx.fillStyle = col;
                    ctx.fillText(name, cx, cy + 0.5);
                });
                var L = p.legend;
                ctx.fillStyle = '#fff';
                ctx.fillRect(L.x, L.y, L.w, L.h);
                ctx.strokeStyle = '#555';
                ctx.lineWidth = 1;
                ctx.strokeRect(L.x + 0.5, L.y + 0.5, L.w, L.h);
                ctx.textAlign = 'left';
                ctx.font = 'bold 14px ' + FONT;
                sampleNames.forEach(function (name, i) {
                    var ry = L.y + 10 + i * 19;
                    ctx.fillStyle = sampleColors[i];
                    ctx.beginPath();
                    ctx.arc(L.x + 11, ry, 5, 0, Math.PI * 2);
                    ctx.fill();
                    ctx.fillStyle = '#111';
                    ctx.fillText(name, L.x + (i === 0 ? 24 : 21), ry + 1);
                });
                ctx.fillText(p.refText, L.x + 27, L.y + L.h + 16);
                ctx.restore();
            }
        }]
    });
}

tempChart('chartC', {
    g0: gapC0, g5: gapC5, g10: gapC10, g15: gapC15, g20: gapC20, gapColor: '#7b8390',
    barLo: gapBarLoC, barHi: gapBarHiC, low: lowC, lowErr: lowErrC,
    lightT: lightTC, light: lightC, lightErr: lightErrC,
    col31: col31C, col31Err: col31ErrC, col36: col36C, col36Err: col36ErrC,
    grayT: grayTC, gray: grayC, grayErr: grayErrC, big: bigC,
    xmcd: xmcdC, squid1: squid1C, squid3: squid3C,
    yMax: 0.55, yTicks: cYTicks, yTitle: 'dI/dV(0meV)/dI/dV(-40meV)', yTitleTop: 21,
    xh: 43, titleBottom: -3, padTop: 22, labelY: gapLabelYC,
    closedAt: [40.84, 0.451, 0.401], openAt: [42.66, 0.09, 0.043],
    legend: {x: 97, y: 39, w: 143, h: 58}, refText: 'Ref: -40 mV'
});

tempChart('chartD', {
    g0: gapD0, g5: gapD5, g10: gapD10, g15: gapD15, g20: gapD20, gapColor: '#b9bcb5',
    barLo: gapBarLoD, barHi: gapBarHiD, low: lowD, lowErr: lowErrD,
    lightT: lightTD, light: lightD, lightErr: lightErrD,
    col31: col31D, col31Err: col31ErrD, col36: col36D, col36Err: col36ErrD,
    grayT: grayTD, gray: grayD, grayErr: grayErrD, big: bigD,
    xmcd: xmcdD, squid1: squid1D, squid3: squid3D,
    yMax: 0.35, yTicks: dYTicks, yTitle: 'dI/dV(0meV)/dI/dV(-60meV)', yTitleTop: 14,
    xh: 47, titleBottom: 4, padTop: 16, labelY: gapLabelYD,
    closedAt: [40.24, 0.296, 0.264], openAt: [50.52, 0.176, 0.146],
    legend: {x: 86, y: 32, w: 142, h: 56}, refText: 'Ref: -60 mV'
});
</script>
</body>
</html>
